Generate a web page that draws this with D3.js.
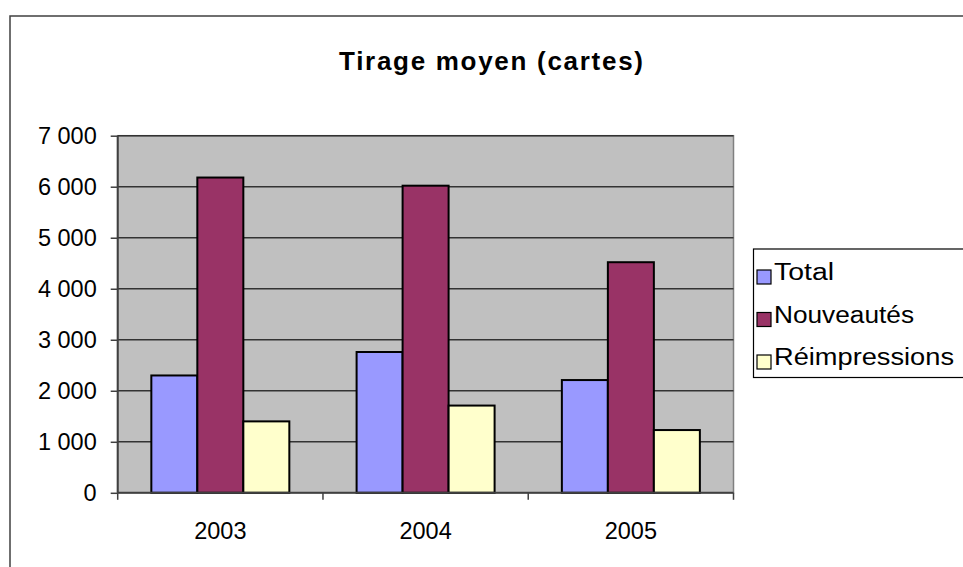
<!DOCTYPE html>
<html><head><meta charset="utf-8">
<script src="https://cdn.jsdelivr.net/npm/d3@7"></script>
<style>body{margin:0;background:#fff}svg{display:block}text{font-family:"Liberation Sans",Arial,sans-serif}</style>
</head><body><svg id="c" width="963" height="567"></svg>
<script>
const title = "Tirage moyen (cartes)";
const categories = ["2003","2004","2005"];
const seriesNames = ["Total","Nouveautés","Réimpressions"];
const total = [2300, 2760, 2210];
const nouveautes = [6180, 6020, 4520];
const reimpressions = [1400, 1710, 1230];
const yTicks = [0,1000,2000,3000,4000,5000,6000,7000];
const colors = ["#9999FF","#993366","#FFFFCC"];
const seriesValues = [total, nouveautes, reimpressions];

const svg = d3.select("#c");
svg.append("rect").attr("x",10).attr("y",16).attr("width",1000).attr("height",600)
  .attr("fill","#fff").attr("stroke","#404040").attr("stroke-width",1.5);

const L=117.7, R=733.5, T=135.7, B=492.8;
const x = d3.scaleBand().domain(categories).range([L,R]).paddingInner(0).paddingOuter(0);
const y = d3.scaleLinear().domain([0,7000]).range([B,T]);
const barW = 46;
const xs = d3.scaleBand().domain(d3.range(3)).range([0, barW*3]);

svg.append("rect").attr("x",L).attr("y",T).attr("width",R-L).attr("height",B-T)
  .attr("fill","#C0C0C0").attr("stroke","#808080").attr("stroke-width",1.5);

svg.append("g").selectAll("line").data(yTicks.filter(d=>d>0)).join("line")
  .attr("x1",L).attr("x2",R).attr("y1",d=>y(d)).attr("y2",d=>y(d))
  .attr("stroke","#333").attr("stroke-width",1.6);

const g = svg.append("g");
categories.forEach((c,i)=>{
  const x0 = x(c) + (x.bandwidth()-barW*3)/2;
  seriesValues.forEach((vals,s)=>{
    g.append("rect").attr("x",x0+xs(s)).attr("y",y(vals[i]))
      .attr("width",xs.bandwidth()).attr("height",y(0)-y(vals[i]))
      .attr("fill",colors[s]).attr("stroke","#000").attr("stroke-width",2);
  });
});

const fmt = d => d3.format(",")(d).replace(/,/g," ");
const ya = svg.append("g").attr("transform",`translate(${L},0)`)
  .call(d3.axisLeft(y).tickValues(yTicks).tickSize(7).tickPadding(14).tickFormat(fmt));
ya.select(".domain").attr("stroke","#404040").attr("stroke-width",2).attr("d",`M-0,${B}V${T}`);
ya.selectAll(".tick line").attr("stroke","#404040").attr("stroke-width",1.5);
ya.selectAll(".tick text").attr("font-size",23.5).attr("fill","#000").attr("font-family","Liberation Sans, Arial, sans-serif");

const xa = svg.append("g").attr("transform",`translate(0,${B})`)
  .call(d3.axisBottom(x).tickSize(0).tickPadding(30));
xa.select(".domain").attr("stroke","#404040").attr("stroke-width",2).attr("d",`M${L},0H${R}`);
xa.selectAll(".tick text").attr("font-size",23.5).attr("fill","#000").attr("font-family","Liberation Sans, Arial, sans-serif");
const bounds = [L, ...categories.map(c=>x(c)+x.bandwidth())];
svg.append("g").selectAll("line").data(bounds).join("line")
  .attr("x1",d=>d).attr("x2",d=>d).attr("y1",B).attr("y2",B+7)
  .attr("stroke","#404040").attr("stroke-width",1.5);

svg.append("text").attr("x",491).attr("y",70).attr("text-anchor","middle")
  .attr("font-size",26).attr("font-weight","bold").attr("textLength",304).attr("lengthAdjust","spacing")
  .text(title);

const lg = svg.append("g");
lg.append("rect").attr("x",753.5).attr("y",249).attr("width",230).attr("height",128.5)
  .attr("fill","#fff").attr("stroke","#000").attr("stroke-width",1.2);
const widths=[60,140,180];
seriesNames.forEach((n,i)=>{
  const cy = 277 + i*42.5;
  lg.append("rect").attr("x",757).attr("y",cy-7).attr("width",14).attr("height",14)
    .attr("fill",colors[i]).attr("stroke","#000").attr("stroke-width",1.2);
  lg.append("text").attr("x",774).attr("y",cy+3).attr("font-size",23.5)
    .attr("textLength",widths[i]).attr("lengthAdjust","spacingAndGlyphs").text(n);
});
</script></body></html>
